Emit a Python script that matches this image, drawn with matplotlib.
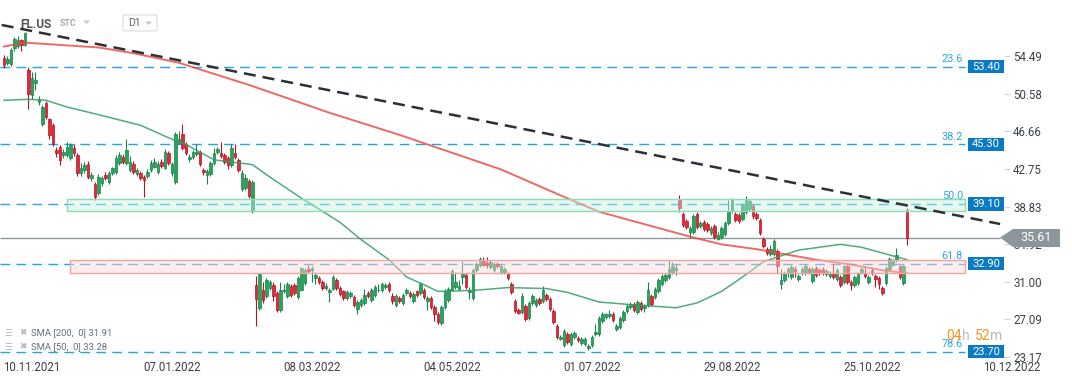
import matplotlib.pyplot as plt
from matplotlib.patches import Rectangle, Polygon, FancyBboxPatch
import numpy as np

plt.rcParams['font.family'] = ['Roboto', 'DejaVu Sans']

# daily OHLC bars, oldest first
opens = [54.3, 53.8, 53.7, 55.3, 55.6, 56.2, 55.7, 53.1, 50.4, 51.7,
         49.7, 47.4, 49.6, 47.9, 47.3, 44.7, 45.0, 44.2, 44.2, 43.9,
         44.9, 44.2, 42.3, 42.6, 43.3, 41.8, 41.2, 40.2, 41.3, 42.1,
         41.4, 42.3, 42.4, 43.4, 44.0, 43.4, 42.6, 43.3, 42.2, 42.3,
         41.9, 42.0, 42.6, 43.0, 42.4, 43.5, 42.9, 44.4, 42.3, 41.4,
         45.5, 46.4, 45.4, 43.8, 44.0, 44.3, 44.5, 42.6, 42.1, 42.2,
         43.4, 44.5, 44.4, 44.2, 43.9, 43.2, 44.4, 43.7, 40.7, 40.8,
         41.5, 38.5, 30.7, 28.3, 30.2, 29.5, 30.4, 30.7, 29.8, 28.1,
         30.0, 29.5, 30.6, 30.7, 29.4, 30.2, 30.9, 32.3, 32.2, 31.4,
         31.4, 31.0, 30.4, 29.9, 30.3, 31.2, 30.4, 30.0, 29.3, 29.5,
         29.4, 28.2, 28.6, 28.8, 29.8, 29.1, 29.6, 30.1, 30.1, 30.5,
         30.8, 29.5, 28.6, 29.3, 28.8, 29.8, 29.8, 29.0, 30.0, 29.8,
         30.2, 29.0, 29.3, 28.4, 27.7, 26.7, 28.4, 29.1, 30.2, 30.5,
         30.3, 31.5, 31.7, 29.9, 29.3, 32.2, 32.7, 33.2, 33.0, 32.5,
         32.2, 32.9, 31.9, 32.0, 31.8, 30.8, 29.0, 28.1, 27.9, 28.5,
         27.2, 28.8, 28.6, 29.2, 29.0, 29.6, 29.2, 28.0, 26.4, 25.1,
         24.4, 25.6, 24.5, 25.3, 25.2, 24.6, 24.5, 24.1, 24.4, 25.6,
         25.6, 26.9, 27.3, 27.4, 27.7, 26.1, 26.3, 27.0, 28.0, 28.4,
         28.7, 27.9, 28.8, 28.3, 28.6, 29.5, 29.4, 30.0, 30.8, 31.2,
         31.5, 32.0, 32.2, 39.6, 38.1, 37.3, 36.2, 36.2, 38.1, 36.8,
         37.2, 37.0, 36.1, 36.8, 35.5, 35.7, 36.0, 37.1, 38.4, 38.1,
         38.0, 37.5, 38.3, 38.6, 38.9, 38.1, 37.4, 35.5, 34.4, 33.9,
         33.9, 34.2, 30.8, 31.2, 32.0, 31.5, 32.3, 31.3, 31.9, 31.9,
         32.3, 31.1, 32.4, 32.2, 32.3, 31.8, 31.6, 31.8, 31.3, 31.5,
         31.0, 32.6, 31.0, 30.7, 30.9, 32.0, 31.9, 31.0, 32.2, 31.6,
         31.4, 30.4, 30.9, 32.3, 32.8, 33.3, 32.6, 30.9, 38.5]
highs = [54.6, 54.5, 55.3, 56.5, 56.6, 56.3, 57.0, 53.4, 52.8, 52.8,
         50.3, 49.4, 49.8, 48.1, 47.5, 45.0, 45.2, 44.8, 45.6, 45.5,
         45.3, 44.4, 43.4, 43.5, 43.6, 42.4, 41.4, 42.2, 42.0, 42.4,
         42.5, 43.0, 44.2, 44.5, 44.3, 45.9, 44.1, 43.6, 42.9, 42.5,
         42.1, 42.7, 43.7, 43.9, 43.6, 43.8, 44.8, 44.6, 43.5, 46.6,
         46.7, 47.4, 45.6, 44.3, 44.7, 45.3, 44.7, 42.8, 42.7, 43.6,
         44.9, 45.0, 45.6, 44.4, 44.1, 45.3, 45.3, 43.9, 42.6, 42.2,
         41.7, 41.6, 31.6, 31.9, 31.0, 31.4, 31.2, 31.0, 30.0, 31.0,
         30.8, 31.0, 30.8, 30.9, 31.6, 32.5, 32.4, 32.7, 32.6, 32.0,
         31.6, 31.2, 30.9, 30.4, 31.7, 31.4, 30.6, 30.2, 30.2, 30.0,
         29.6, 29.1, 29.3, 30.3, 30.0, 30.4, 30.7, 30.8, 31.0, 30.9,
         31.0, 29.8, 29.7, 29.5, 29.8, 30.4, 30.0, 29.9, 30.2, 31.0,
         30.4, 29.5, 29.5, 28.6, 27.9, 28.6, 30.3, 30.5, 32.3, 32.0,
         31.2, 33.2, 31.9, 30.5, 32.4, 33.1, 33.6, 33.6, 33.6, 33.3,
         33.1, 33.1, 32.8, 32.5, 32.0, 31.0, 29.2, 28.3, 29.8, 28.7,
         29.0, 29.7, 29.3, 29.4, 30.6, 29.8, 29.4, 28.2, 26.6, 25.5,
         26.1, 25.8, 25.8, 25.9, 25.4, 25.3, 25.3, 24.5, 25.5, 26.6,
         27.4, 27.9, 27.8, 28.1, 27.9, 26.6, 27.4, 28.1, 28.7, 28.9,
         28.9, 29.1, 29.0, 28.7, 31.0, 29.7, 30.5, 31.4, 31.8, 31.9,
         33.3, 33.1, 32.9, 40.0, 38.3, 37.5, 36.8, 38.1, 38.3, 37.3,
         37.4, 37.2, 36.8, 37.0, 36.2, 36.8, 37.3, 39.5, 39.7, 38.3,
         38.2, 39.2, 39.9, 39.6, 39.1, 38.3, 37.6, 35.7, 34.6, 34.8,
         35.5, 34.4, 32.3, 32.1, 32.5, 32.7, 32.6, 31.8, 32.5, 32.9,
         32.5, 32.5, 32.6, 32.4, 32.5, 32.3, 32.1, 32.9, 32.4, 31.7,
         32.8, 32.8, 31.2, 31.7, 32.0, 32.5, 32.6, 31.7, 32.4, 31.8,
         31.6, 30.6, 32.6, 33.6, 33.4, 34.5, 32.8, 32.8, 38.7]
lows = [53.3, 53.6, 53.5, 55.0, 55.3, 55.0, 55.5, 49.0, 50.0, 51.0,
        49.4, 47.2, 48.0, 45.9, 45.1, 44.0, 43.2, 43.9, 44.0, 43.7,
        44.1, 42.0, 42.0, 42.3, 41.7, 41.5, 39.5, 40.0, 41.0, 41.6,
        41.2, 42.1, 42.2, 43.2, 43.3, 43.2, 42.4, 42.2, 42.0, 41.6,
        39.8, 41.8, 42.4, 42.8, 42.2, 42.9, 42.7, 43.2, 42.0, 41.2,
        45.3, 44.7, 44.2, 43.5, 43.8, 44.1, 43.1, 42.1, 41.2, 42.0,
        43.2, 44.3, 43.9, 43.3, 42.7, 43.0, 43.8, 42.4, 40.5, 40.6,
        39.7, 38.2, 26.4, 28.1, 28.8, 29.3, 30.2, 29.0, 27.9, 27.9,
        29.8, 29.3, 29.4, 29.6, 29.2, 30.0, 30.7, 31.9, 31.0, 30.8,
        30.8, 30.2, 30.2, 28.9, 30.1, 30.2, 29.5, 29.1, 29.1, 29.3,
        28.4, 27.7, 28.4, 28.6, 29.3, 28.9, 29.4, 29.9, 29.9, 30.3,
        29.9, 28.7, 28.4, 28.8, 28.6, 29.6, 29.3, 28.8, 29.4, 29.6,
        29.2, 28.1, 28.2, 26.9, 26.6, 26.5, 28.2, 28.9, 30.0, 30.3,
        30.1, 30.8, 30.3, 29.2, 29.1, 32.0, 32.5, 32.6, 32.4, 32.3,
        32.0, 32.4, 31.8, 31.8, 31.2, 29.7, 27.8, 27.6, 27.7, 26.9,
        27.0, 28.6, 28.4, 28.6, 28.8, 29.0, 28.0, 26.6, 25.1, 24.9,
        24.2, 24.5, 24.3, 25.1, 24.7, 24.4, 24.3, 23.9, 24.2, 25.4,
        25.4, 26.7, 27.1, 27.2, 26.8, 25.9, 26.1, 26.8, 27.8, 28.2,
        27.9, 27.7, 28.0, 27.9, 28.4, 28.5, 29.2, 29.8, 30.6, 31.0,
        31.3, 31.8, 31.7, 38.3, 36.7, 36.5, 35.6, 36.0, 36.5, 36.6,
        36.3, 36.2, 35.9, 35.5, 35.4, 35.5, 35.8, 36.9, 38.2, 37.2,
        37.1, 37.3, 38.1, 38.4, 37.5, 37.4, 35.9, 34.5, 33.8, 33.7,
        33.7, 31.9, 30.3, 31.0, 31.5, 31.3, 31.5, 31.1, 31.7, 31.7,
        31.8, 30.9, 31.5, 31.7, 31.7, 31.6, 31.4, 31.3, 31.1, 30.5,
        30.8, 30.8, 30.2, 30.5, 30.7, 31.8, 31.4, 30.8, 31.7, 30.5,
        30.3, 29.6, 30.7, 32.1, 32.6, 33.1, 31.3, 30.7, 34.8]
closes = [53.6, 54.2, 55.1, 56.3, 56.2, 55.7, 56.9, 50.6, 52.2, 52.0,
          50.0, 49.2, 48.2, 46.3, 45.4, 44.4, 43.7, 44.5, 45.0, 45.2,
          44.4, 42.3, 42.9, 43.2, 41.9, 42.1, 39.8, 41.9, 41.8, 41.8,
          42.3, 42.8, 43.9, 44.2, 43.5, 44.7, 43.5, 42.4, 42.6, 41.8,
          41.6, 42.4, 43.4, 43.5, 43.3, 43.1, 44.5, 43.4, 43.3, 46.4,
          45.9, 44.9, 44.4, 44.0, 44.5, 44.5, 43.3, 42.4, 42.5, 43.4,
          44.4, 44.8, 44.1, 43.5, 43.2, 44.9, 44.0, 42.6, 42.3, 41.8,
          39.9, 41.4, 29.2, 31.8, 29.1, 31.2, 31.0, 29.5, 28.1, 30.2,
          30.1, 30.8, 29.6, 29.8, 31.4, 32.4, 32.2, 32.1, 32.4, 31.7,
          31.0, 30.4, 30.6, 30.2, 31.5, 30.4, 29.7, 29.3, 29.9, 29.8,
          28.6, 28.9, 29.1, 29.6, 29.5, 30.2, 30.5, 30.2, 30.8, 30.7,
          30.1, 29.0, 29.5, 29.0, 29.6, 30.2, 29.5, 29.7, 29.6, 30.8,
          29.4, 29.3, 28.4, 27.7, 26.8, 28.4, 30.0, 30.3, 32.1, 31.0,
          30.6, 31.9, 30.5, 30.2, 32.2, 32.9, 33.4, 32.8, 32.7, 33.1,
          32.9, 32.6, 32.6, 32.3, 31.4, 29.9, 28.0, 27.8, 29.5, 27.1,
          28.8, 29.5, 29.1, 28.8, 30.2, 29.2, 28.2, 26.8, 25.3, 25.3,
          25.9, 24.7, 25.6, 25.7, 24.9, 25.1, 25.1, 24.3, 25.3, 25.8,
          27.2, 27.7, 27.6, 27.7, 27.0, 26.4, 27.2, 27.9, 28.5, 28.7,
          28.1, 28.9, 28.2, 28.5, 30.1, 28.7, 30.3, 31.2, 31.6, 31.7,
          32.3, 32.6, 32.4, 38.7, 36.9, 36.7, 36.6, 37.9, 36.7, 37.1,
          36.5, 36.4, 36.6, 35.7, 35.9, 36.6, 37.1, 38.4, 39.5, 37.4,
          37.3, 39.0, 39.5, 39.4, 37.9, 37.6, 36.1, 34.7, 34.0, 34.4,
          35.3, 32.6, 31.2, 31.9, 32.3, 32.5, 32.1, 31.6, 32.3, 32.6,
          32.0, 32.3, 31.7, 31.9, 31.9, 32.1, 31.9, 31.5, 32.2, 30.7,
          32.6, 31.0, 30.7, 31.5, 31.8, 32.3, 31.6, 31.5, 31.9, 31.3,
          30.8, 29.8, 32.4, 33.4, 33.2, 33.8, 31.5, 32.6, 35.61]

# moving averages (bar index, value)
sma200_idx = [0, 6, 27, 37, 50, 70, 93, 113, 142, 159, 170, 196, 205, 215, 232, 242, 251, 258]
sma200_val = [55.5, 55.9, 55.4, 54.8, 53.8, 51.5, 48.6, 46.3, 42.7, 40.0, 38.3, 35.7,
              34.9, 34.4, 33.3, 32.8, 32.2, 31.9]
sma50_idx = [0, 7, 12, 18, 27, 39, 47, 52, 60, 71, 76, 85, 96, 102, 110, 115, 120, 124,
             134, 144, 155, 161, 170, 180, 192, 198, 205, 211, 217, 222, 227, 239, 245, 251, 258]
sma50_val = [49.9, 50.0, 49.9, 49.2, 48.4, 47.3, 46.0, 45.3, 43.7, 43.2, 41.9, 39.7, 37.2,
             35.4, 33.3, 31.5, 30.7, 30.0, 30.1, 30.4, 30.3, 29.9, 28.9, 28.6, 28.3, 28.8,
             30.0, 31.5, 33.1, 33.7, 34.3, 34.9, 34.6, 34.0, 33.3]

# fibonacci levels
fib_levels = [53.40, 45.30, 39.10, 32.90, 23.70]
fib_pct = ['23.6', '38.2', '50.0', '61.8', '78.6']
green_zone = (38.38, 39.63)
red_zone = (31.96, 33.28)
trend_idx = [-0.66, 284.6]
trend_val = [57.74, 37.02]
last_price = 35.61

price_ticks = [54.49, 50.58, 46.66, 42.75, 38.83, 34.92, 31.00, 27.09, 23.17]
date_ticks = [8, 48, 88, 128, 168, 208, 248, 288]
date_labels = ['10.11.2021', '07.01.2022', '08.03.2022', '04.05.2022',
               '01.07.2022', '29.08.2022', '25.10.2022', '10.12.2022']

W, H = 1072, 382


def px2n(px):
    return (px - 4) / 3.5


def fx(px):
    return px / W


def fy(py):
    return 1 - py / H


fig = plt.figure(figsize=(10.72, 3.82), dpi=100)
fig.patch.set_facecolor('white')

# date axis spans the full width (labels run under the price column)
axd = fig.add_axes([0, 24 / H, 1, 358 / H])
axd.set_xlim(px2n(0), px2n(W))
axd.set_ylim(0, 1)
for s in axd.spines.values():
    s.set_visible(False)
axd.set_yticks([])
axd.set_xticks(date_ticks)
axd.set_xticklabels(date_labels)
axd.tick_params(axis='x', length=0, pad=2.5, labelsize=8.3, labelcolor='#3a4147')

ax = fig.add_axes([0, 24 / H, 1004 / W, 358 / H])
ax.patch.set_alpha(0)
ax.set_xlim(px2n(0), px2n(1004))
ax.set_ylim(23.07, 60.34)
for s in ax.spines.values():
    s.set_visible(False)
ax.set_xticks([])
ax.yaxis.tick_right()
ax.set_yticks(price_ticks)
ax.set_yticklabels(['%.2f' % v for v in price_ticks])
ax.tick_params(axis='y', length=4.3, width=0.8, color='#d3d7da', pad=2.2,
               labelsize=8.3, labelcolor='#3a4147')

# fib levels
ax.hlines(fib_levels, px2n(0), px2n(965), colors='#1ea5ec', linestyles=(0, (7, 4.5)),
          lw=1.0, zorder=2)
for lvl, pct in zip(fib_levels, fib_pct):
    ax.text(px2n(963), lvl + 0.8, pct, ha='right', va='center', fontsize=7.8,
            color='#2aa7e6', zorder=6)
    ax.add_patch(Rectangle((px2n(968), lvl - 0.68), px2n(1004) - px2n(968), 1.36,
                           facecolor='#0a7ac4', edgecolor='none', zorder=9, clip_on=False))
    ax.text(px2n(986), lvl, '%.2f' % lvl, ha='center', va='center', fontsize=8,
            color='white', zorder=10)

# last price line
ax.hlines(last_price, px2n(0), px2n(1000), colors='#8d969b', lw=1.0, zorder=2)

# candles
x = np.arange(len(opens))
o, h, l, c = map(np.array, (opens, highs, lows, closes))
up = c >= o
fill = np.where(up, '#26a65b', '#e2293b')
edge = np.where(up, '#17824a', '#b5141f')
ax.vlines(x, l, h, colors=edge, lw=0.8, zorder=3)
body = np.maximum(np.abs(c - o), 0.08)
ax.bar(x, body, bottom=np.minimum(o, c), width=0.72, color=fill, edgecolor=edge,
       linewidth=0.5, zorder=4)

# moving averages
ax.plot(sma200_idx, sma200_val, color='#e8453f', lw=1.4, alpha=0.8, zorder=5)
ax.plot(sma50_idx, sma50_val, color='#2f9e68', lw=1.1, alpha=0.85, zorder=5)

# zones
ax.add_patch(Rectangle((px2n(67), green_zone[0]), px2n(965) - px2n(67),
                       green_zone[1] - green_zone[0], facecolor='#c8f0df', alpha=0.45,
                       edgecolor='none', zorder=6))
ax.add_patch(Rectangle((px2n(67), green_zone[0]), px2n(965) - px2n(67),
                       green_zone[1] - green_zone[0], facecolor='none',
                       edgecolor='#8cdcb9', lw=1.0, zorder=6))
ax.add_patch(Rectangle((px2n(70), red_zone[0]), px2n(965) - px2n(70),
                       red_zone[1] - red_zone[0], facecolor='#fcd9d9', alpha=0.45,
                       edgecolor='none', zorder=6))
ax.add_patch(Rectangle((px2n(70), red_zone[0]), px2n(965) - px2n(70),
                       red_zone[1] - red_zone[0], facecolor='none',
                       edgecolor='#f4a3a3', lw=1.0, zorder=6))

# trend line
ax.plot(trend_idx, trend_val, color='#2b3136', lw=1.8, dashes=(4.8, 2.8), zorder=7)

# last price tag (covers most of the 34.92 tick label, as in the platform)
tag = [(px2n(1000), last_price), (px2n(1013), 36.50), (px2n(1060), 36.50),
       (px2n(1060), 34.62), (px2n(1013), 34.62)]
ax.add_patch(Polygon(tag, closed=True, facecolor='#8d969b', edgecolor='none',
                     zorder=11, clip_on=False))
ax.text(px2n(1036), last_price, '%.2f' % last_price, ha='center', va='center',
        fontsize=9, color='white', zorder=12, clip_on=False)

# header
fig.text(fx(20), fy(24), 'FL.US', fontsize=8.5, fontweight='bold', color='#4d555b',
         va='center', ha='left')
fig.text(fx(60), fy(24), 'STC', fontsize=6.3, fontweight='bold', color='#a3abb0',
         va='center', ha='left')
fig.add_artist(Polygon([(fx(83), fy(20.5)), (fx(90), fy(20.5)), (fx(86.5), fy(24))],
                       closed=True, facecolor='#c3c9cd', edgecolor='none',
                       transform=fig.transFigure))
fig.add_artist(FancyBboxPatch((fx(123), fy(31)), fx(34), 16 / H,
                              boxstyle='round,pad=0,rounding_size=0.004',
                              facecolor='white', edgecolor='#d8dcdf', lw=0.8,
                              transform=fig.transFigure))
fig.text(fx(128), fy(23.5), 'D1', fontsize=7.5, color='#5a6268', va='center', ha='left')
fig.add_artist(Polygon([(fx(145), fy(21.5)), (fx(152), fy(21.5)), (fx(148.5), fy(25))],
                       closed=True, facecolor='#c3c9cd', edgecolor='none',
                       transform=fig.transFigure))

# indicator legend
for yy, label in [(333, 'SMA [200,  0] 31.91'), (347, 'SMA [50,  0] 33.28')]:
    fig.text(fx(4), fy(yy), '\u2630', fontsize=6.5, color='#b3babf', va='center',
             ha='left', family='DejaVu Sans')
    fig.text(fx(19), fy(yy), '\u2716', fontsize=6.5, color='#b3babf', va='center',
             ha='left', family='DejaVu Sans')
    fig.text(fx(31), fy(yy), label, fontsize=6.8, color='#66707a', va='center', ha='left')

# candle countdown
fig.text(fx(946), fy(336), '04', fontsize=10, color='#f7931e', va='center', ha='left')
fig.text(fx(962), fy(336), 'h', fontsize=10, color='#b9bfc4', va='center', ha='left')
fig.text(fx(975), fy(336), '52', fontsize=10, color='#f7931e', va='center', ha='left')
fig.text(fx(990), fy(336), 'm', fontsize=10, color='#b9bfc4', va='center', ha='left')

fig.savefig('out.png', dpi=100)
